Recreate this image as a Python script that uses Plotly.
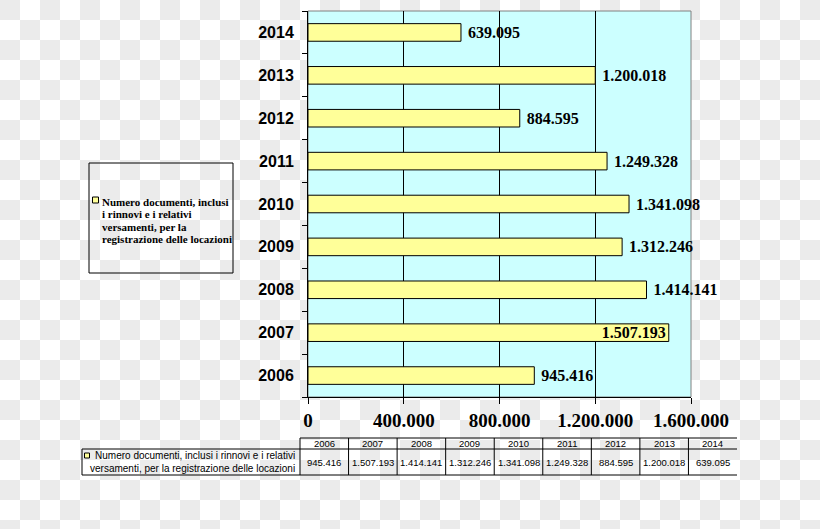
import plotly.graph_objects as go

# data
years = ["2006", "2007", "2008", "2009", "2010", "2011", "2012", "2013", "2014"]
documenti = [945416, 1507193, 1414141, 1312246, 1341098, 1249328, 884595, 1200018, 639095]
text_pos = ["outside", "inside", "outside", "outside", "outside", "outside", "outside", "outside", "outside"]
x_ticks = [0, 400000, 800000, 1200000, 1600000]
series_name = "Numero documenti, inclusi i rinnovi e i relativi versamenti, per la registrazione delle locazioni"
legend_lines = ["Numero documenti, inclusi", "i rinnovi e i relativi", "versamenti, per la",
                "registrazione delle locazioni"]
table_lines = ["Numero documenti, inclusi i rinnovi e i relativi",
               "versamenti, per la registrazione delle locazioni"]

W, H = 820, 529


def px(x):
    return x / W


def py(y):
    return 1 - y / H


def fmt(v):
    return f"{v:,}".replace(",", ".")


fig = go.Figure()
fig.add_trace(go.Bar(
    y=years, x=documenti, orientation="h", name=series_name,
    width=0.41,
    marker=dict(color="#ffff99", line=dict(color="black", width=1)),
    texttemplate=" %{x:,d}", textposition=text_pos, insidetextanchor="end",
    constraintext="none", cliponaxis=False,
    textfont=dict(family="Times New Roman, Liberation Serif", size=16, color="black", weight="bold"),
    showlegend=False,
))

shapes = []
# checkerboard background
sq = 20
path = []
for j in range(0, H // sq + 1):
    for i in range(0, W // sq + 1):
        if (i + j) % 2 == 0:
            x0, x1 = px(i * sq), px(min((i + 1) * sq, W))
            y0, y1 = py(j * sq), py(min((j + 1) * sq, H))
            path.append(f"M{x0:.5f},{y0:.5f}H{x1:.5f}V{y1:.5f}H{x0:.5f}Z")
shapes.append(dict(type="path", xref="paper", yref="paper", path="".join(path),
                   fillcolor="#ebebeb", line=dict(width=0), layer="below"))
# plot area fill + frame
shapes.append(dict(type="rect", xref="x domain", yref="y domain", x0=0, x1=1, y0=0, y1=1,
                   fillcolor="#ccffff", line=dict(color="#808080", width=1), layer="below"))

# legend box
shapes.append(dict(type="rect", xref="paper", yref="paper", x0=px(89), x1=px(233), y0=py(163), y1=py(273),
                   line=dict(color="black", width=1)))
shapes.append(dict(type="rect", xref="paper", yref="paper", x0=px(92.5), x1=px(98.5), y0=py(197), y1=py(203),
                   fillcolor="#ffff99", line=dict(color="black", width=1)))

annotations = []
for n, txt in enumerate(legend_lines):
    annotations.append(dict(
        xref="paper", yref="paper", x=px(100), y=py(201.5 + n * 12.5), xanchor="left", yanchor="middle",
        showarrow=False, text=txt,
        font=dict(family="Times New Roman, Liberation Serif", size=11, color="black", weight="bold"),
    ))

# data table under the chart
tx0, tx1 = 300, 737
col_w = (tx1 - tx0) / len(years)
t_top, t_mid, t_bot, t_left = 438, 449, 475, 82
line = dict(color="black", width=1)
shapes.append(dict(type="line", xref="paper", yref="paper", x0=px(tx0), x1=px(tx1), y0=py(t_top), y1=py(t_top), line=line))
shapes.append(dict(type="line", xref="paper", yref="paper", x0=px(t_left), x1=px(tx1), y0=py(t_mid), y1=py(t_mid), line=line))
shapes.append(dict(type="line", xref="paper", yref="paper", x0=px(t_left), x1=px(tx1), y0=py(t_bot), y1=py(t_bot), line=line))
shapes.append(dict(type="line", xref="paper", yref="paper", x0=px(t_left), x1=px(t_left), y0=py(t_mid), y1=py(t_bot), line=line))
for k in range(len(years)):
    xc = tx0 + k * col_w
    shapes.append(dict(type="line", xref="paper", yref="paper", x0=px(xc), x1=px(xc), y0=py(t_top), y1=py(t_bot), line=line))
    annotations.append(dict(xref="paper", yref="paper", x=px(xc + col_w / 2), y=py((t_top + t_mid) / 2),
                            xanchor="center", yanchor="middle", showarrow=False, text=years[k],
                            font=dict(family="Arial, Liberation Sans", size=9.5, color="black")))
    annotations.append(dict(xref="paper", yref="paper", x=px(xc + col_w / 2), y=py((t_mid + t_bot) / 2),
                            xanchor="center", yanchor="middle", showarrow=False, text=fmt(documenti[k]),
                            font=dict(family="Arial, Liberation Sans", size=9.5, color="black")))
shapes.append(dict(type="rect", xref="paper", yref="paper", x0=px(84.5), x1=px(89.5), y0=py(453), y1=py(458),
                   fillcolor="#ffff99", line=dict(color="black", width=1)))
annotations.append(dict(xref="paper", yref="paper", x=px(297), y=py(462), xanchor="right", yanchor="middle",
                        align="right", showarrow=False, text="<br>".join(table_lines),
                        font=dict(family="Arial, Liberation Sans", size=10, color="black")))

fig.update_layout(
    width=W, height=H, autosize=False,
    margin=dict(l=0, r=0, t=0, b=0, pad=0),
    paper_bgcolor="white", plot_bgcolor="rgba(0,0,0,0)",
    separators=",.",
    shapes=shapes, annotations=annotations,
)
fig.update_xaxes(
    domain=[px(308), px(691)], range=[0, 1600000], tickvals=x_ticks, tickformat=",d",
    showgrid=True, gridcolor="black", gridwidth=1, automargin=False,
    showline=True, linecolor="black", linewidth=1,
    ticks="outside", ticklen=6, tickcolor="black",
    tickfont=dict(family="Times New Roman, Liberation Serif", size=19, color="black", weight="bold"),
    zeroline=False,
)
fig.update_yaxes(
    domain=[py(397), py(11)], showgrid=False, automargin=False,
    showline=True, linecolor="black", linewidth=1,
    ticks="outside", ticklen=5, tickcolor="black", tickson="boundaries",
    tickfont=dict(family="Arial, Liberation Sans", size=16, color="black", weight="bold"),
    ticklabelstandoff=10,
)

fig.write_html("out.html", config={"displayModeBar": False},
               post_script="document.body.style.margin='0';document.body.style.overflow='hidden';")
